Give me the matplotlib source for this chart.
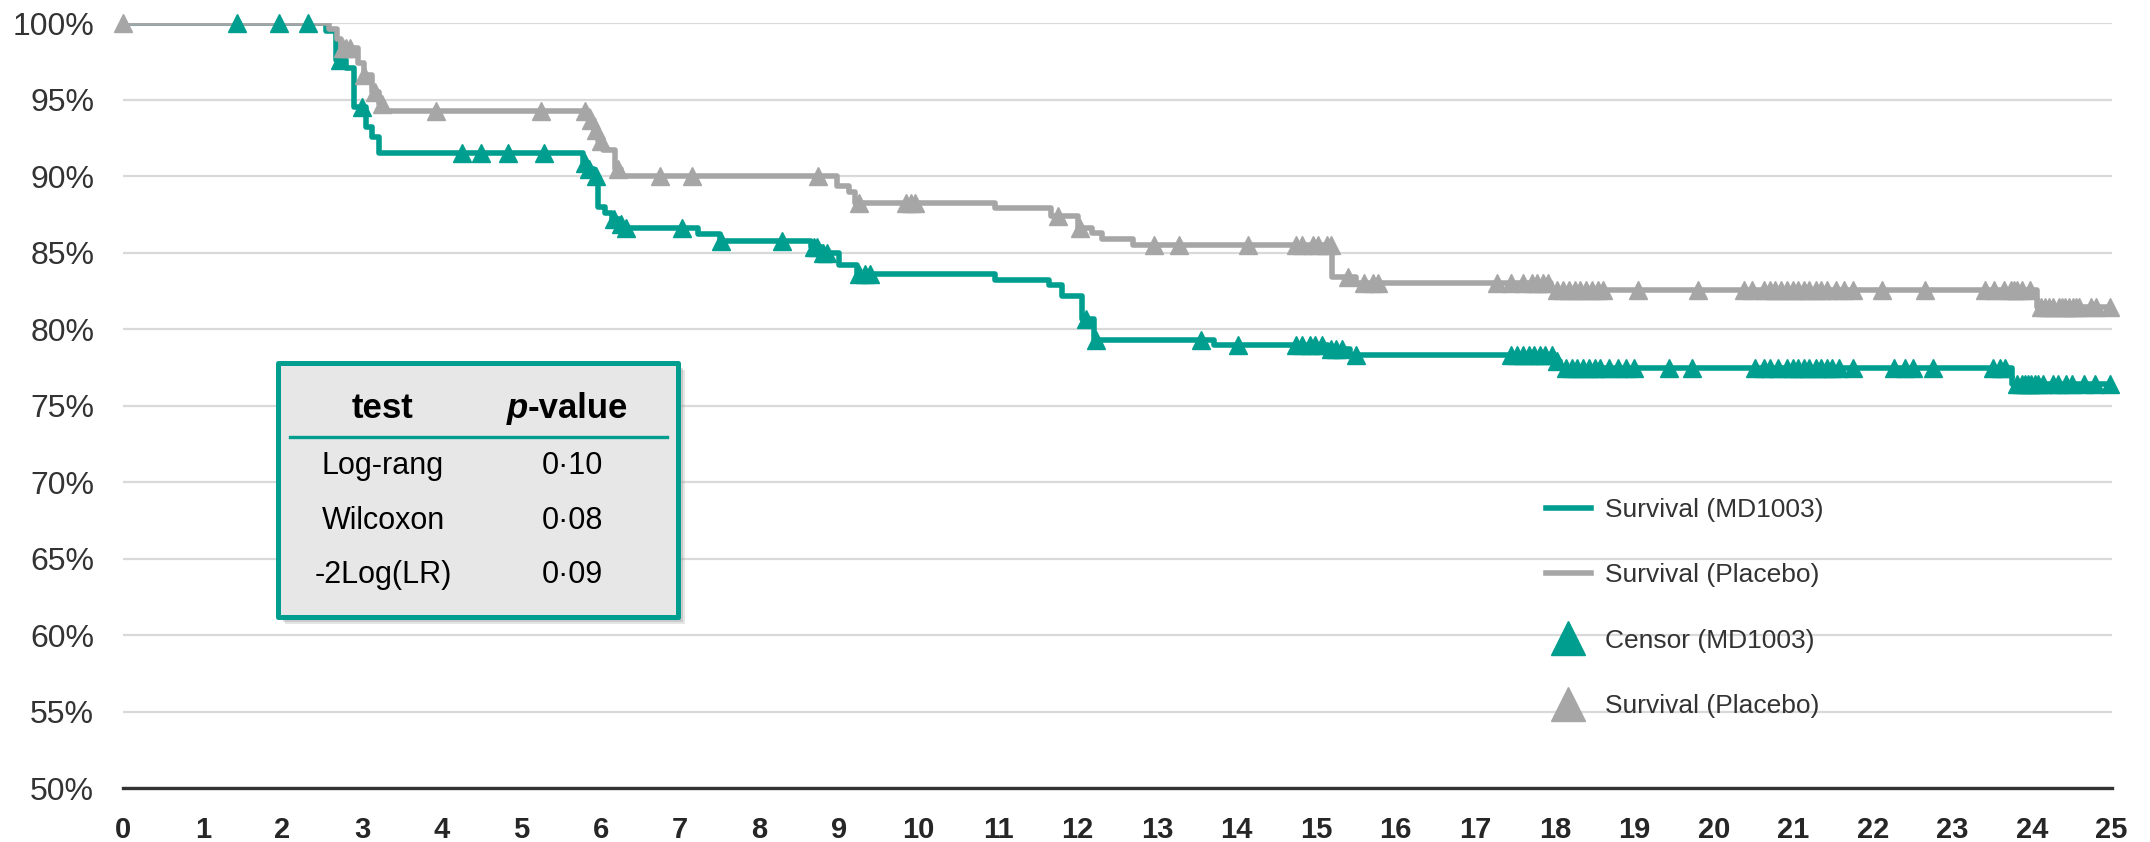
import numpy as np
import matplotlib
matplotlib.use("Agg")
import matplotlib.pyplot as plt
from matplotlib.lines import Line2D
from matplotlib.patches import Rectangle

plt.rcParams['font.family'] = ['Liberation Sans', 'DejaVu Sans']

# ---------------- data ----------------
md_times = [0, 2.55, 2.67, 2.80, 2.90, 3.05, 3.12, 3.22, 5.78, 5.84, 5.92, 5.97, 6.05, 6.15,
            6.25, 6.30, 7.23, 7.50, 8.65, 8.78, 9.00, 9.22, 10.96, 11.64, 11.80, 12.05, 12.20,
            13.71, 15.15, 15.43, 18.00, 18.07, 23.75, 25.0]
md_surv = [100, 99.5, 97.6, 97.1, 94.5, 93.2, 92.6, 91.5, 90.9, 90.5, 90.0, 88.0, 87.6, 87.2,
           86.9, 86.6, 86.25, 85.8, 85.4, 85.0, 84.2, 83.6, 83.25, 82.9, 82.2, 80.7, 79.3,
           79.0, 78.7, 78.3, 77.9, 77.45, 76.4, 76.4]
md_censor = [1.43, 1.96, 2.32, 2.72, 3.00, 4.26, 4.50, 4.83, 5.29, 5.80, 5.86, 5.94, 6.17, 6.26,
             6.32, 7.03, 7.52, 8.28, 8.68, 8.72, 8.80, 8.85, 9.25, 9.33, 9.39, 12.10, 12.23,
             13.55, 14.02, 14.74, 14.82, 14.92, 14.99, 15.07, 15.18, 15.25, 15.32, 15.50,
             17.45, 17.52, 17.60, 17.67, 17.74, 17.81, 17.88, 17.96, 18.03, 18.14, 18.21,
             18.28, 18.35, 18.43, 18.50, 18.57, 18.68, 18.79, 18.89, 19.00, 19.44, 19.73,
             20.52, 20.63, 20.70, 20.81, 20.92, 20.99, 21.06, 21.13, 21.20, 21.28, 21.35,
             21.42, 21.49, 21.57, 21.75, 22.26, 22.40, 22.51, 22.76, 23.51, 23.60, 23.66,
             23.81, 23.87, 23.91, 23.95, 23.99, 24.04, 24.08, 24.14, 24.27, 24.33, 24.43,
             24.50, 24.65, 24.79, 24.98]

pl_times = [0, 2.58, 2.68, 2.74, 2.95, 3.02, 3.12, 3.22, 3.28, 5.86, 5.92, 5.97, 6.03, 6.18,
            6.26, 8.97, 9.12, 9.20, 10.96, 11.66, 12.00, 12.18, 12.30, 12.70, 15.20, 15.50,
            17.95, 24.06, 25.0]
pl_surv = [100, 99.6, 99.0, 98.4, 97.4, 96.6, 95.5, 94.7, 94.24, 93.7, 93.0, 92.3, 91.7, 90.5,
           90.0, 89.35, 89.0, 88.26, 87.9, 87.4, 86.6, 86.3, 85.9, 85.5, 83.4, 83.0,
           82.6, 81.46, 81.46]
pl_censor = [0.0, 2.76, 2.80, 2.85, 3.03, 3.16, 3.25, 3.93, 5.25, 5.81, 5.88, 5.94, 6.00, 6.22,
             6.75, 7.15, 8.74, 9.25, 9.84, 9.90, 9.95, 11.75, 12.03, 12.96, 13.27, 14.14,
             14.74, 14.82, 14.96, 15.02, 15.14, 15.18, 15.40, 15.60, 15.71, 15.78, 17.27,
             17.45, 17.60, 17.71, 17.78, 17.85, 17.92, 18.03, 18.10, 18.18, 18.25, 18.32,
             18.39, 18.47, 18.54, 18.61, 19.04, 19.80, 20.38, 20.48, 20.63, 20.70, 20.77,
             20.85, 20.92, 20.99, 21.06, 21.13, 21.20, 21.28, 21.35, 21.42, 21.53, 21.64,
             21.75, 22.11, 22.66, 23.41, 23.52, 23.65, 23.73, 23.77, 23.81, 23.87, 23.98,
             24.11, 24.17, 24.21, 24.26, 24.34, 24.38, 24.42, 24.47, 24.51, 24.55, 24.59,
             24.74, 24.80, 24.98]

x_ticks = list(range(0, 26))
y_ticks = [50, 55, 60, 65, 70, 75, 80, 85, 90, 95, 100]
y_labels = ['50%', '55%', '60%', '65%', '70%', '75%', '80%', '85%', '90%', '95%', '100%']

legend_labels = ['Survival (MD1003)', 'Survival (Placebo)', 'Censor (MD1003)', 'Survival (Placebo)']

table_header = ['test', '-value']
table_tests = ['Log-rang', 'Wilcoxon', '-2Log(LR)']
table_pvalues = ['0·10', '0·08', '0·09']

TEAL = '#009E8F'
GREY = '#A6A6A6'
TXT = '#333333'


def km_at(times, surv, pts):
    times = np.asarray(times)
    surv = np.asarray(surv)
    idx = np.searchsorted(times, np.asarray(pts), side='right') - 1
    return surv[idx]


W, H = 2150, 842
fig = plt.figure(figsize=(W / 100, H / 100), dpi=100)
x0, x1 = 123.4, 2111.5
y_top, y_bot = 23.3, 788.3
ax = fig.add_axes([x0 / W, 1 - y_bot / H, (x1 - x0) / W, (y_bot - y_top) / H])

ax.step(md_times, md_surv, where='post', color=TEAL, lw=4.0, zorder=3)
ax.step(pl_times, pl_surv, where='post', color=GREY, lw=4.0, zorder=4)
ax.plot(md_censor, km_at(md_times, md_surv, md_censor), ls='none', marker='^', ms=13,
        color=TEAL, mec=TEAL, clip_on=False, zorder=5)
ax.plot(pl_censor, km_at(pl_times, pl_surv, pl_censor), ls='none', marker='^', ms=13,
        color=GREY, mec=GREY, clip_on=False, zorder=6)

ax.set_xlim(0, 25)
ax.set_ylim(50, 100)
ax.set_xticks(x_ticks)
ax.set_xticklabels([str(v) for v in x_ticks], fontsize=21, fontweight='bold', color='#262626')
ax.set_yticks(y_ticks)
ax.set_yticklabels(y_labels, fontsize=23, color=TXT)
ax.tick_params(axis='both', length=0)
ax.tick_params(axis='y', pad=21)
ax.tick_params(axis='x', pad=20)
ax.yaxis.grid(True, color='#D9D9D9', lw=1.6)
ax.set_axisbelow(True)
for s in ['top', 'right', 'left']:
    ax.spines[s].set_visible(False)
ax.spines['bottom'].set_color('#333333')
ax.spines['bottom'].set_linewidth(2.4)
ax.spines['bottom'].set_zorder(2)

# legend
handles = [Line2D([], [], color=TEAL, lw=4.0),
           Line2D([], [], color=GREY, lw=4.0),
           Line2D([], [], ls='none', marker='^', ms=24, color=TEAL),
           Line2D([], [], ls='none', marker='^', ms=24, color=GREY)]
leg = fig.legend(handles, legend_labels, loc='upper left',
                 bbox_to_anchor=(1522 / W, 1 - 474 / H), frameon=False, fontsize=19,
                 labelspacing=1.57, handlelength=1.7, handletextpad=0.55, labelcolor=TXT)

# stats box (figure pixel coords)
def fx(x):
    return x / W


def fy(y):
    return 1 - y / H


bx0, bx1, by0, by1 = 278, 678, 363, 617
for off, al in [(7, 0.25), (5, 0.35), (3, 0.45)]:
    fig.add_artist(Rectangle((fx(bx0 + off), fy(by1 + off)), fx(bx1 - bx0), (by1 - by0) / H,
                             transform=fig.transFigure, facecolor='#9a9a9a', edgecolor='none',
                             alpha=al, zorder=8))
fig.add_artist(Rectangle((fx(bx0), fy(by1)), fx(bx1 - bx0), (by1 - by0) / H,
                         transform=fig.transFigure, facecolor='#E7E7E7', edgecolor=TEAL,
                         lw=3.6, joinstyle='round', zorder=9))
fig.add_artist(Line2D([fx(290), fx(667)], [fy(437), fy(437)], transform=fig.transFigure,
                      color=TEAL, lw=2.4, zorder=10))
fig.text(fx(383), fy(409), table_header[0], ha='center', va='center', fontsize=25,
         fontweight='bold', color='black', zorder=11)
fig.text(fx(528), fy(409), 'p', ha='right', va='center', fontsize=25, fontweight='bold',
         fontstyle='italic', color='black', zorder=11)
fig.text(fx(528), fy(409), table_header[1], ha='left', va='center', fontsize=25,
         fontweight='bold', color='black', zorder=11)
for i, (tname, pv) in enumerate(zip(table_tests, table_pvalues)):
    yy = [466, 521, 575][i]
    fig.text(fx(383), fy(yy), tname, ha='center', va='center', fontsize=22, color='black', zorder=11)
    fig.text(fx(572), fy(yy), pv, ha='center', va='center', fontsize=22, color='black', zorder=11)

fig.savefig('out.png', dpi=100)
